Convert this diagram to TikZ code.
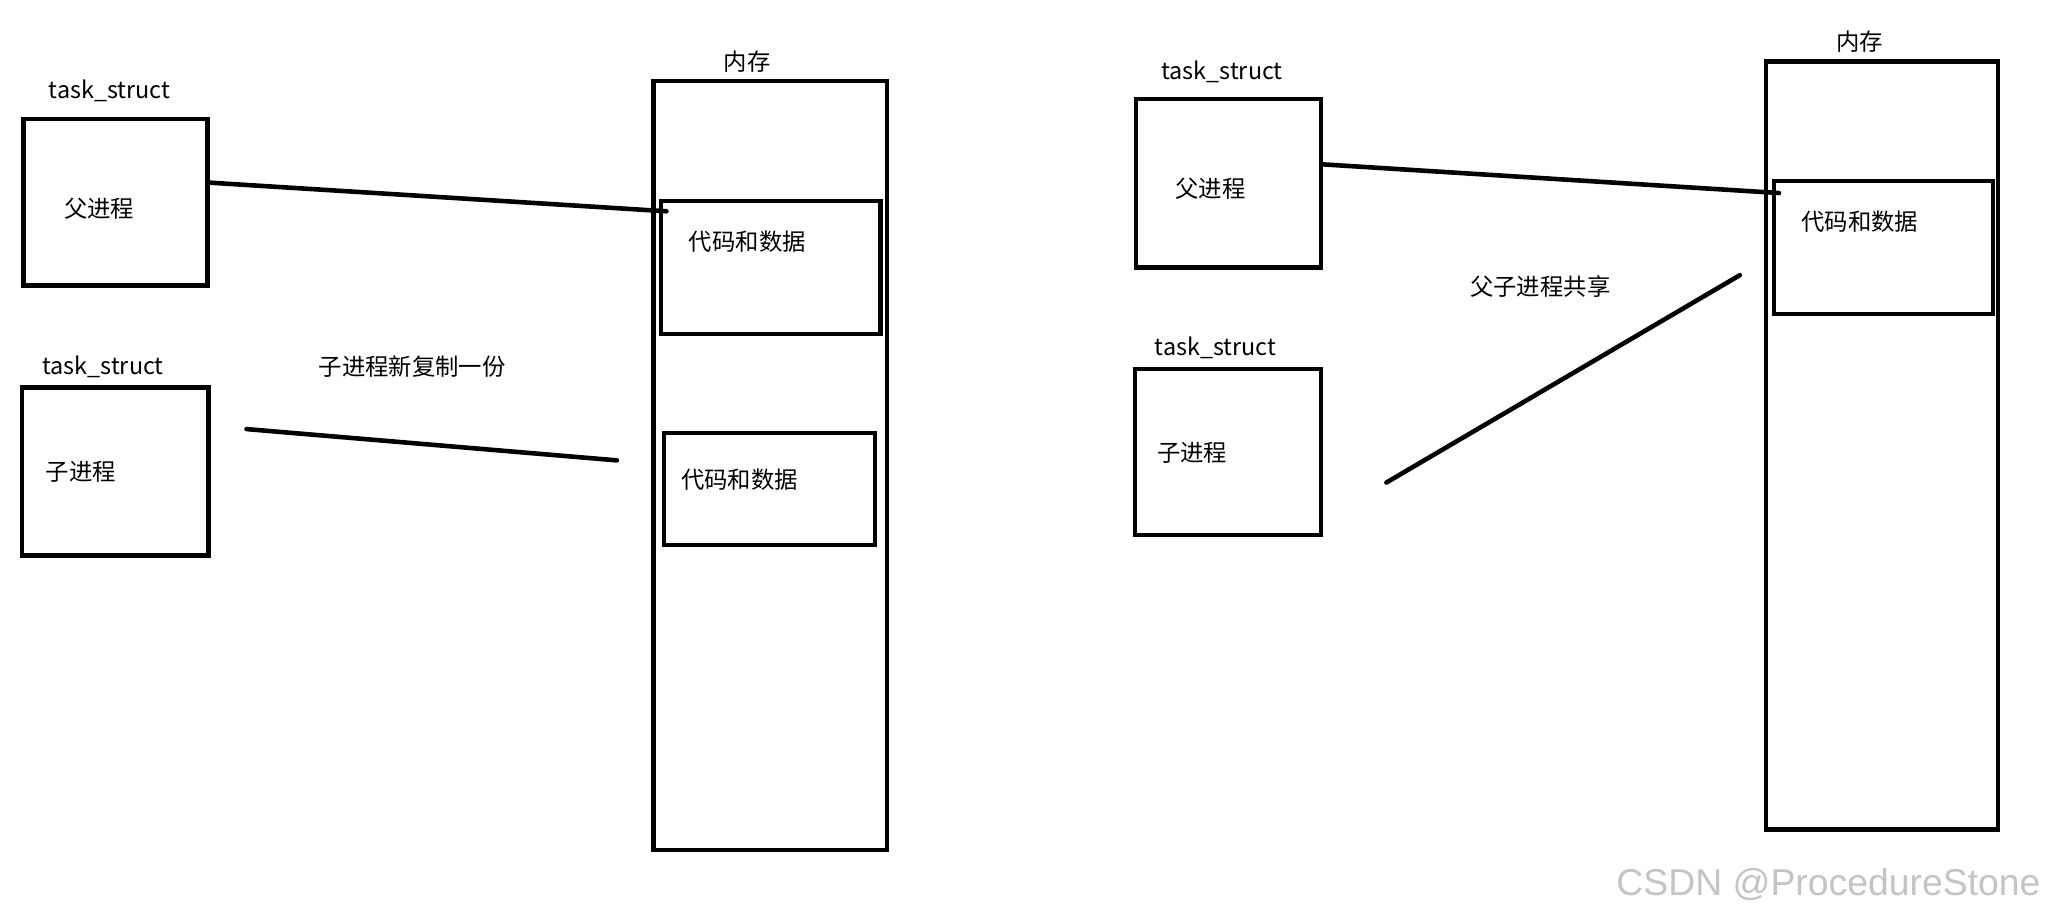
\documentclass[tikz,border=0pt]{standalone}
\usepackage{fontspec}
\setmainfont{Noto Sans CJK SC}
\newfontfamily\wmfont{Liberation Sans}
\usetikzlibrary{calc}
\definecolor{wmgray}{RGB}{196,196,196}
\begin{document}
\begin{tikzpicture}[x=0.02cm,y=-0.02cm,
  frame/.style={draw=black,line width=1.9pt,inner sep=0pt,outer sep=0pt},
  lbl/.style={inner sep=0pt,font=\fontsize{10.2}{12}\selectfont},
  wire/.style={draw=black,line width=2pt,line cap=round}]
\useasboundingbox (0,0) rectangle (1568,705);
\fill[white] (0,0) rectangle (1568,705);

% ---- left half: fork copies code and data ----
\node[frame,minimum width=2.82cm,minimum height=2.56cm] (pbox) at (88.5,155) {};
\node[frame,minimum width=2.86cm,minimum height=2.58cm] (cbox) at (88.5,361.5) {};
\node[frame,minimum width=3.58cm,minimum height=11.8cm] (mem) at (590.5,357) {};
\node[frame,minimum width=3.36cm,minimum height=2.04cm] (code1) at (591,205) {};
\node[frame,minimum width=3.24cm,minimum height=1.72cm] (code2) at (590,375) {};

\node[lbl] (ts1) at (84,70) {task\_struct};
\node[lbl] (pname) at (76,160) {父进程};
\node[lbl] (ts2) at (79,281) {task\_struct};
\node[lbl] (cname) at (62,362) {子进程};
\node[lbl] (copy) at (316,281) {子进程新复制一份};
\node[lbl] (memt) at (573,47) {内存};
\node[lbl] (cd1) at (573,185) {代码和数据};
\node[lbl] (cd2) at (567,368) {代码和数据};

\coordinate (l2a) at (189,329);
\coordinate (l2b) at (473,353);
\draw[wire] ($(pbox.north east)+(1,49)$) -- ($(code1.north west)+(4,8)$);
\draw[wire] (l2a) -- (l2b);

% ---- right half: code and data shared ----
\node[frame,minimum width=2.84cm,minimum height=2.58cm] (pbox2) at (942,140.5) {};
\node[frame,minimum width=2.86cm,minimum height=2.54cm] (cbox2) at (941.5,346.5) {};
\node[frame,minimum width=3.56cm,minimum height=11.78cm] (mem2) at (1443,341.5) {};
\node[frame,minimum width=3.36cm,minimum height=2.04cm] (code3) at (1444,190) {};

\node[lbl] (ts3) at (937,55) {task\_struct};
\node[lbl] (pname2) at (928,145) {父进程};
\node[lbl] (ts4) at (932,267) {task\_struct};
\node[lbl] (cname2) at (914,347) {子进程};
\node[lbl] (share) at (1181,220) {父子进程共享};
\node[lbl] (memt2) at (1426,32) {内存};
\node[lbl] (cd3) at (1426,170) {代码和数据};

\coordinate (r2a) at (1063,370);
\coordinate (r2b) at (1334,211);
\draw[wire] ($(pbox2.north east)+(1,50)$) -- ($(code3.north west)+(4,9)$);
\draw[wire] (r2a) -- (r2b);

% ---- watermark ----
\node[inner sep=0pt,text=wmgray,font=\wmfont\fontsize{16.3}{18}\selectfont] (wm) at (1402,678) {CSDN @ProcedureStone};
\end{tikzpicture}
\end{document}
